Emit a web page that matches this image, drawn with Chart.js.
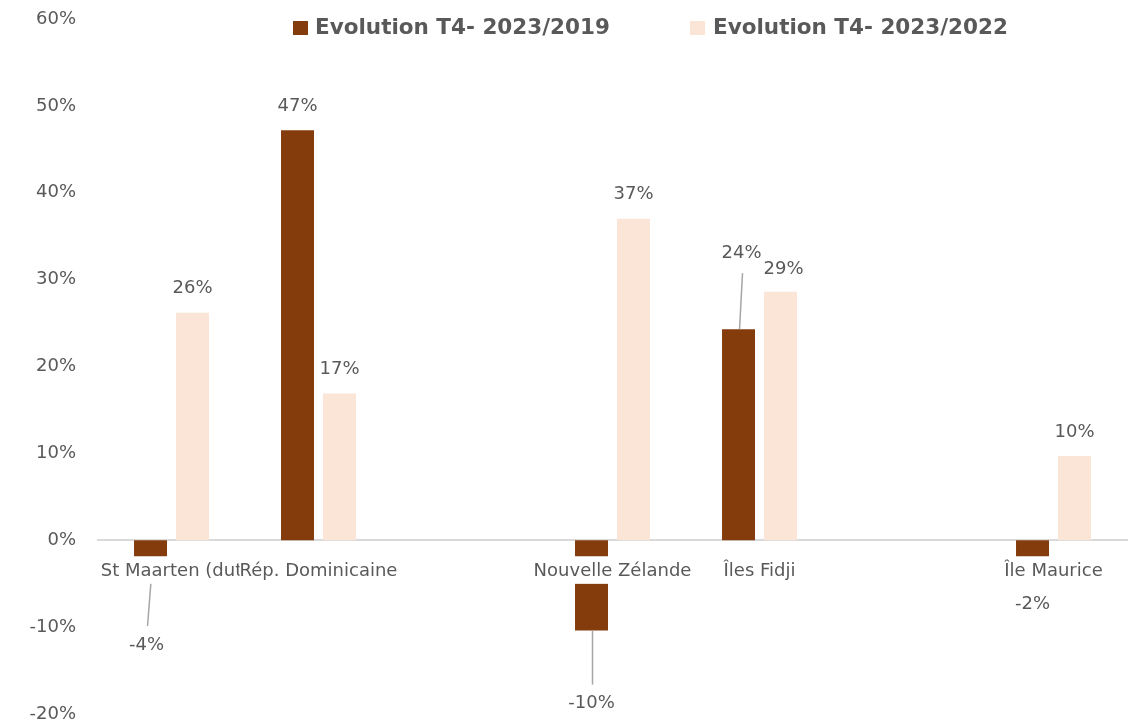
<!DOCTYPE html>
<html lang="fr">
<head>
    <meta charset="UTF-8">
    <title>Evolution T4 2023</title>
    <script src="https://cdn.jsdelivr.net/npm/chart.js"></script>
    <style>
        body { margin: 0; background: #fff; }
        .chart-container { position: relative; width: 1133px; height: 725px; }
    </style>
</head>
<body>
    <div class="chart-container">
        <canvas id="evoChart"></canvas>
    </div>

    <script>
        // Destinations (Excel truncates the first label)
        const destinations = ['St Maarten (dut', 'Rép. Dominicaine', '', 'Nouvelle Zélande', 'Îles Fidji', '', 'Île Maurice'];

        // Evolution in %
        const evo2019 = [-4, 47.2, null, -10.4, 24.3, null, -2];
        const evo2022 = [26.2, 16.9, null, 37.0, 28.6, null, 9.7];

        const seriesNames = ['Evolution T4- 2023/2019', 'Evolution T4- 2023/2022'];
        const seriesColors = ['#843C0C', '#FBE5D6'];

        const FONT = '"DejaVu Sans", sans-serif';
        const GREY = '#595959';

        // manual nudges for some data labels, as in the original (dx, dy, leader line)
        const labelNudge = {
            '0-0': { dx: -4, dy: 46, leader: true },
            '0-3': { dx: 0, dy: 49, leader: true },
            '0-4': { dx: 3, dy: -52, leader: true },
            '1-4': { dx: 3, dy: 2, leader: false },
            '0-6': { dx: 0, dy: 23, leader: false }
        };

        function labelPos(bar, v, key) {
            const neg = v < 0;
            let x = bar.x;
            let y = neg ? bar.y + 24 : bar.y - 24;
            const n = labelNudge[key];
            if (n) { x += n.dx; y += n.dy; }
            return { x, y, neg, n };
        }

        const valueLabels = {
            id: 'valueLabels',
            // leader lines go under the category labels
            afterDatasetsDraw(chart) {
                const ctx = chart.ctx;
                ctx.save();
                ctx.strokeStyle = '#a6a6a6';
                ctx.lineWidth = 1.5;
                chart.data.datasets.forEach((ds, di) => {
                    chart.getDatasetMeta(di).data.forEach((bar, i) => {
                        const v = ds.data[i];
                        if (v === null) return;
                        const p = labelPos(bar, v, di + '-' + i);
                        if (!p.n || !p.n.leader) return;
                        ctx.beginPath();
                        ctx.moveTo(bar.x + 1, bar.y);
                        ctx.lineTo(p.x + 1, p.neg ? p.y - 19 : p.y + 20);
                        ctx.stroke();
                    });
                });
                ctx.restore();
            },
            afterDraw(chart) {
                const ctx = chart.ctx;
                ctx.save();
                ctx.font = '18px ' + FONT;
                ctx.fillStyle = GREY;
                ctx.textAlign = 'center';
                ctx.textBaseline = 'middle';
                chart.data.datasets.forEach((ds, di) => {
                    chart.getDatasetMeta(di).data.forEach((bar, i) => {
                        const v = ds.data[i];
                        if (v === null) return;
                        const p = labelPos(bar, v, di + '-' + i);
                        ctx.fillText(Math.round(v) + '%', p.x, p.y);
                    });
                });
                ctx.restore();
            }
        };

        const topLegend = {
            id: 'topLegend',
            afterDraw(chart) {
                const ctx = chart.ctx;
                const items = [{ x: 293, tx: 315 }, { x: 690, tx: 713 }];
                ctx.save();
                ctx.font = 'bold 21.5px ' + FONT;
                ctx.textBaseline = 'middle';
                ctx.textAlign = 'left';
                items.forEach((it, k) => {
                    ctx.fillStyle = seriesColors[k];
                    ctx.fillRect(it.x, 21, 15, 14);
                    ctx.fillStyle = GREY;
                    ctx.fillText(seriesNames[k], it.tx, 28);
                });
                ctx.restore();
            }
        };

        const ctx = document.getElementById('evoChart').getContext('2d');
        const evoChart = new Chart(ctx, {
            type: 'bar',
            data: {
                labels: destinations,
                datasets: [
                    {
                        label: seriesNames[0],
                        data: evo2019,
                        backgroundColor: seriesColors[0],
                        categoryPercentage: 0.571,
                        barPercentage: 0.786
                    },
                    {
                        label: seriesNames[1],
                        data: evo2022,
                        backgroundColor: seriesColors[1],
                        categoryPercentage: 0.571,
                        barPercentage: 0.786
                    }
                ]
            },
            options: {
                responsive: true,
                maintainAspectRatio: false,
                animation: false,
                layout: { padding: { top: 19, right: 6, bottom: 11 } },
                plugins: {
                    legend: { display: false },
                    tooltip: { enabled: false }
                },
                scales: {
                    x: {
                        position: { y: 0 },
                        afterFit(scale) {
                            scale.height = 0;
                            scale.paddingTop = 0;
                            scale.paddingBottom = 0;
                        },
                        grid: { display: false, drawTicks: false },
                        border: { color: '#d9d9d9', width: 2 },
                        ticks: {
                            z: 1,
                            autoSkip: false,
                            maxRotation: 0,
                            padding: 20,
                            color: GREY,
                            font: { family: FONT, size: 18 },
                            showLabelBackdrop: true,
                            backdropColor: '#ffffff',
                            backdropPadding: { top: 4, bottom: 2, left: 0, right: 0 }
                        }
                    },
                    y: {
                        min: -20,
                        max: 60,
                        grid: { display: false, drawTicks: false },
                        border: { display: false },
                        afterFit(scale) {
                            scale.width = 98;
                            scale.paddingTop = 0;
                            scale.paddingBottom = 0;
                        },
                        ticks: {
                            stepSize: 10,
                            padding: 22,
                            color: GREY,
                            font: { family: FONT, size: 18 },
                            callback: v => v + '%'
                        }
                    }
                }
            },
            plugins: [valueLabels, topLegend]
        });
    </script>
</body>
</html>
